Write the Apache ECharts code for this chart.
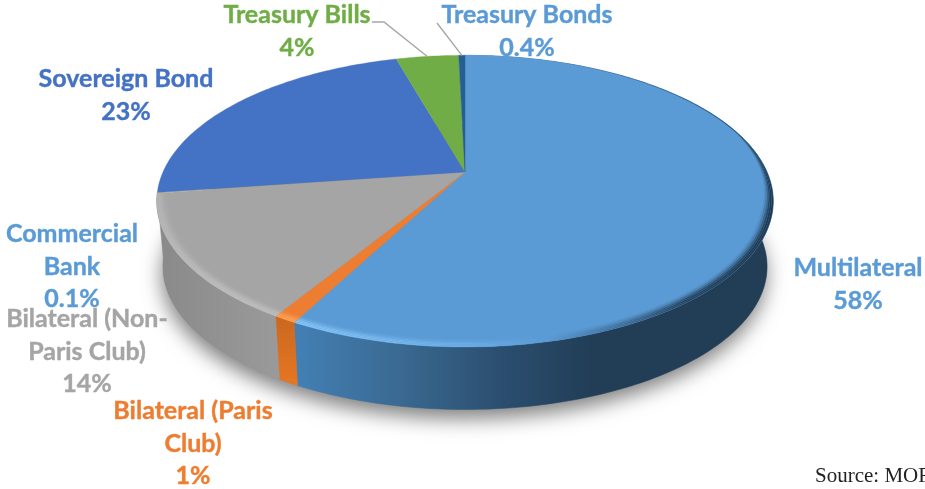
<!DOCTYPE html>
<html>
<head>
<meta charset="utf-8">
<style>html,body{margin:0;padding:0;background:#fff;overflow:hidden}#chart{width:925px;height:489px}</style>
<script src="https://cdn.jsdelivr.net/npm/echarts@6/dist/echarts.min.js"></script>
</head>
<body>
<div id="chart"></div>
<script>
// Debt composition, clockwise from twelve o'clock
var categories = ['Multilateral', 'Bilateral (Paris Club)', 'Bilateral (Non-Paris Club)', 'Commercial Bank', 'Sovereign Bond', 'Treasury Bills', 'Treasury Bonds'];
var shares = [58, 1, 14, 0.1, 23, 4, 0.4];
var shareLabels = ['58%', '1%', '14%', '0.1%', '23%', '4%', '0.4%'];
var labelLines = [['Multilateral'], ['Bilateral (Paris', 'Club)'], ['Bilateral (Non-', 'Paris Club)'], ['Commercial', 'Bank'], ['Sovereign Bond'], ['Treasury Bills'], ['Treasury Bonds']];

var faceColors = ['#5b9bd5', '#ed7d31', '#a5a5a5', '#bfae6e', '#4472c4', '#70ad47', '#255e91'];
var textColors = ['#5b9bd5', '#ed7d31', '#a5a5a5', '#5b9bd5', '#4472c4', '#70ad47', '#5b9bd5'];
var labelCentres = [[858, 268], [193, 411], [87, 319], [72, 234], [126, 79], [297, 15], [527, 15]];

// Perspective disc: apex position, horizontal and vertical radii, foreshortening
var APEX = [465, 172], RX = 302, RY = 140, PERSP = 0.2;
var BASE_SCALE = 0.98, DEPTH = 66, LINE_H = 32.5;
var total = shares.reduce(function (a, b) { return a + b; }, 0);

function sliceAngles(i) {
  var before = 0;
  for (var k = 0; k < i; k++) before += shares[k];
  return [before / total * 360, (before + shares[i]) / total * 360];
}
function project(deg, r, base) {
  var a = deg * Math.PI / 180, u = r * Math.sin(a), v = -r * Math.cos(a), w = 1 - PERSP * v;
  var s = base ? BASE_SCALE : 1;
  return [APEX[0] + RX * s * u / w, APEX[1] + RY * s * v / w + (base ? DEPTH : 0)];
}
function arc(a0, a1, r, base) {
  var n = Math.max(2, Math.ceil(Math.abs(a1 - a0))), pts = [];
  for (var i = 0; i <= n; i++) pts.push(project(a0 + (a1 - a0) * i / n, r, base));
  return pts;
}
function grad(x, y, x2, y2, stops) {
  return { type: 'linear', global: true, x: x, y: y, x2: x2, y2: y2,
    colorStops: stops.map(function (s) { return { offset: s[0], color: s[1] }; }) };
}

// Wall shading; only the three slices facing the viewer show a wall
var wallFills = {
  0: grad(298, 0, 590, 0, [[0, '#437fb4'], [0.35, '#3a6991'], [0.7, '#2b4e6f'], [1, '#223e57']]),
  1: grad(0, 315, 0, 385, [[0, '#c9681f'], [1, '#e67622']]),
  2: grad(160, 0, 280, 0, [[0, '#8a8a8a'], [1, '#9a9a9a']])
};
// Rounded rim shading on the top face
var rimFills = {
  0: grad(298, 0, 773, 0, [[0, '#84c3f5'], [0.36, '#6cade8'], [0.52, '#5b9bd5'], [0.68, '#3f6f9c'], [0.82, '#24425c'], [1, '#1f3a52']]),
  1: grad(0, 300, 0, 340, [[0, '#ff9e55'], [1, '#ff9e55']]),
  2: grad(0, 186, 0, 300, [[0, 'rgba(185,185,185,0.3)'], [0.12, '#b4b4b4'], [1, '#bdbdbd']])
};
var RIM_ALPHA = [1, 1, 0.85, 0.55, 0.28, 0.1];
function rimRadius(deg, t) {
  var a = deg * Math.PI / 180, v = -Math.cos(a);
  var f = Math.min(1, Math.max(0, (v + 0.3) / 0.6));
  return 1 - t * 0.036 * (0.16 + 0.84 * f);
}
function rimBand(a0, a1, t0, t1) {
  var n = Math.ceil(a1 - a0), outer = [], inner = [];
  for (var i = 0; i <= n; i++) {
    var d = a0 + (a1 - a0) * i / n;
    outer.push(project(d, rimRadius(d, t0), false));
    inner.unshift(project(d, rimRadius(d, t1), false));
  }
  return outer.concat(inner);
}

var sliceData = shares.map(function (v, i) { return { name: categories[i], value: [v, i] }; });

function renderBase(params) {
  return {
    type: 'polygon', silent: true,
    shape: { points: arc(0, 360, 1, true) },
    style: { fill: '#8a8a8a', shadowBlur: 20, shadowColor: 'rgba(0,0,0,0.5)', shadowOffsetX: -1, shadowOffsetY: 9 }
  };
}
function renderWall(params) {
  var i = params.dataIndex, r = sliceAngles(i);
  if (!wallFills[i]) return { type: 'group', children: [] };
  var top = arc(r[0], r[1], 1, false), bottom = arc(r[0], r[1], 1, true).reverse();
  return {
    type: 'polygon', silent: true,
    shape: { points: top.concat(bottom) },
    style: { fill: wallFills[i], stroke: wallFills[i], lineWidth: 0.5 }
  };
}
function renderTop(params) {
  var i = params.dataIndex, r = sliceAngles(i), kids = [];
  var face = [APEX.slice()].concat(arc(r[0], r[1], 1, false));
  kids.push({ type: 'polygon', silent: true, shape: { points: face },
    style: { fill: faceColors[i], stroke: faceColors[i], lineWidth: i === 3 ? 0 : 0.4 } });
  if (rimFills[i]) {
    RIM_ALPHA.forEach(function (al, b) {
      kids.push({ type: 'polygon', silent: true,
        shape: { points: rimBand(r[0], r[1], b / RIM_ALPHA.length, (b + 1) / RIM_ALPHA.length) },
        style: { fill: rimFills[i], opacity: al } });
    });
  }
  return { type: 'group', children: kids };
}
function renderLabel(params) {
  var i = params.dataIndex, c = labelCentres[i], kids = [];
  labelLines[i].concat([shareLabels[i]]).forEach(function (line, k) {
    kids.push({ type: 'text', silent: true, x: c[0], y: c[1] + k * LINE_H,
      style: { text: line, fill: textColors[i], stroke: textColors[i], lineWidth: 0.4, align: 'center', verticalAlign: 'middle',
        font: 'bold 25px Lato, "Open Sans", sans-serif' } });
  });
  return { type: 'group', children: kids };
}
// Leader lines for the two narrow treasury slices
var leaderStarts = { 5: [[372, 22], [384, 22]], 6: [[437, 23]] };
function renderLeader(params) {
  var i = params.dataIndex;
  if (!leaderStarts[i]) return { type: 'group', children: [] };
  var r = sliceAngles(i), end = project((r[0] + r[1]) / 2, 1, false);
  return { type: 'polyline', silent: true, shape: { points: leaderStarts[i].concat([end]) },
    style: { fill: 'none', stroke: '#a6a6a6', lineWidth: 1.4 } };
}

function layer(fn, z) {
  return { type: 'custom', coordinateSystem: 'none', renderItem: fn, data: sliceData, z: z, animation: false, silent: true };
}

var chart = echarts.init(document.getElementById('chart'), null, { renderer: 'canvas' });
chart.setOption({
  backgroundColor: '#ffffff',
  animation: false,
  tooltip: { show: false },
  series: [
    { type: 'custom', coordinateSystem: 'none', renderItem: renderBase, data: [sliceData[0]], z: 1, animation: false, silent: true },
    layer(renderWall, 2),
    layer(renderTop, 3),
    layer(renderLeader, 4),
    layer(renderLabel, 5)
  ],
  graphic: [{
    type: 'text', left: 815, top: 466, silent: true, z: 10,
    style: { text: 'Source: MOF', fill: '#222222', font: '21px "Liberation Serif", serif' }
  }]
});
</script>
</body>
</html>
